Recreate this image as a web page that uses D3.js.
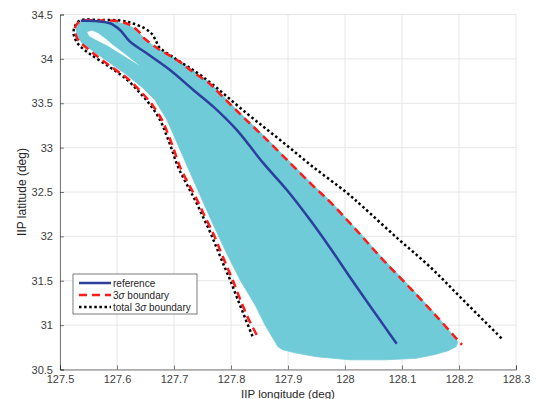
<!DOCTYPE html>
<html>
<head>
<meta charset="utf-8">
<script src="https://cdn.jsdelivr.net/npm/d3@7"></script>
<style>
  body { margin: 0; background: #fff; }
  text { font-family: "Liberation Sans", Arial, Helvetica, sans-serif; }
</style>
</head>
<body>
<div id="grafica"></div>
<script>
// ticks
var xTicks = [127.5, 127.6, 127.7, 127.8, 127.9, 128, 128.1, 128.2, 128.3];
var yTicks = [30.5, 31, 31.5, 32, 32.5, 33, 33.5, 34, 34.5];

// reference trajectory [lon, lat]
var reference = [
  [127.5363, 34.430], [127.5614, 34.427], [127.5877, 34.401], [127.6053, 34.325],
  [127.6228, 34.194], [127.6521, 34.063], [127.6930, 33.875], [127.7339, 33.650],
  [127.7689, 33.462], [127.8100, 33.200], [127.8567, 32.825], [127.8977, 32.525],
  [127.9386, 32.187], [127.9737, 31.872], [128.0118, 31.512], [128.0732, 30.949],
  [128.0907, 30.791]
];

// 3 sigma boundary
var sigma3 = [
  [127.8451, 30.891], [127.8298, 31.082], [127.8158, 31.296], [127.8035, 31.499],
  [127.7930, 31.657], [127.7807, 31.848], [127.7684, 32.039], [127.7544, 32.220],
  [127.7404, 32.411], [127.7246, 32.602], [127.7105, 32.783], [127.7000, 32.974],
  [127.6895, 33.154], [127.6789, 33.312], [127.6632, 33.470], [127.6439, 33.616],
  [127.6175, 33.785], [127.5877, 33.920], [127.5579, 34.066], [127.5386, 34.168],
  [127.5298, 34.235], [127.5263, 34.348], [127.5298, 34.393], [127.5368, 34.427],
  [127.5702, 34.432], [127.6053, 34.421], [127.6246, 34.376], [127.6404, 34.292],
  [127.6474, 34.235], [127.6667, 34.140], [127.6754, 34.100], [127.7053, 33.988],
  [127.7333, 33.852], [127.7632, 33.717], [127.7772, 33.627], [127.8158, 33.380],
  [127.8561, 33.130], [127.9035, 32.828], [127.9439, 32.569], [127.9737, 32.389],
  [128.0211, 32.062], [128.0667, 31.735], [128.1140, 31.420], [128.1614, 31.093],
  [128.2053, 30.778]
];

// total 3 sigma boundary
var total3 = [
  [127.8377, 30.874], [127.8246, 31.082], [127.8114, 31.296], [127.7991, 31.499],
  [127.7886, 31.657], [127.7763, 31.848], [127.7640, 32.039], [127.7509, 32.220],
  [127.7368, 32.411], [127.7211, 32.602], [127.7070, 32.783], [127.6965, 32.974],
  [127.6860, 33.154], [127.6754, 33.312], [127.6596, 33.470], [127.6404, 33.616],
  [127.6140, 33.785], [127.5842, 33.920], [127.5526, 34.055], [127.5368, 34.134],
  [127.5281, 34.202], [127.5237, 34.292], [127.5263, 34.370], [127.5351, 34.432],
  [127.5702, 34.438], [127.6053, 34.432], [127.6281, 34.399], [127.6491, 34.342],
  [127.6614, 34.280], [127.6684, 34.202], [127.6737, 34.134], [127.6982, 34.021],
  [127.7509, 33.796], [127.8275, 33.387], [127.8860, 33.087], [127.9439, 32.783],
  [128.0035, 32.490], [128.0316, 32.332], [128.0912, 31.983], [128.1491, 31.657],
  [128.2070, 31.285], [128.2754, 30.846]
];

// envelope of the dispersed trajectories
var dispersion = [
  [127.8825, 30.756], [127.8596, 31.003], [127.8421, 31.229], [127.8158, 31.510],
  [127.7895, 31.848], [127.7667, 32.163], [127.7456, 32.467], [127.7246, 32.771],
  [127.7070, 33.030], [127.6877, 33.312], [127.6667, 33.537], [127.6456, 33.672],
  [127.6175, 33.819], [127.5877, 33.954], [127.5579, 34.089], [127.5386, 34.179],
  [127.5298, 34.258], [127.5281, 34.337], [127.5333, 34.404], [127.5421, 34.427],
  [127.5702, 34.421], [127.6018, 34.410], [127.6193, 34.382], [127.6316, 34.337],
  [127.6404, 34.280], [127.6544, 34.190], [127.6719, 34.111], [127.7035, 33.999],
  [127.7333, 33.869], [127.7632, 33.729], [127.7772, 33.639], [127.8158, 33.391],
  [127.8561, 33.143], [127.9035, 32.839], [127.9439, 32.580], [127.9737, 32.400],
  [128.0211, 32.073], [128.0667, 31.747], [128.1140, 31.431], [128.1614, 31.105],
  [128.1982, 30.812], [128.1947, 30.756], [128.1807, 30.711], [128.1561, 30.666],
  [128.1246, 30.626], [128.0702, 30.609], [128.0088, 30.609], [127.9509, 30.643],
  [127.9123, 30.688], [127.8912, 30.722]
];

// empty sliver inside the dispersion near the start
var gap = [
  [127.5474, 34.303], [127.5561, 34.320], [127.5667, 34.292], [127.5807, 34.224],
  [127.5930, 34.157], [127.6140, 34.055], [127.6404, 33.920], [127.6123, 34.033],
  [127.5842, 34.145], [127.5632, 34.213], [127.5509, 34.258]
];

var margin = {top: 14.5, right: 23, bottom: 29.5, left: 60},
    width = 539 - margin.left - margin.right,
    height = 399 - margin.top - margin.bottom;

var svg = d3.select("#grafica")
  .append("svg")
    .attr("width", 539)
    .attr("height", 399)
  .append("g")
    .attr("transform", "translate(" + margin.left + "," + margin.top + ")");

var x = d3.scaleLinear().domain([127.5, 128.3]).range([0, width]);
var y = d3.scaleLinear().domain([30.5, 34.5]).range([height, 0]);

// gridlines
svg.append("g")
  .selectAll("line.gx")
  .data(xTicks)
  .enter().append("line")
    .attr("x1", function(d) { return x(d); })
    .attr("x2", function(d) { return x(d); })
    .attr("y1", 0).attr("y2", height)
    .attr("stroke", "#e6e6e6").attr("stroke-width", 1);

svg.append("g")
  .selectAll("line.gy")
  .data(yTicks)
  .enter().append("line")
    .attr("y1", function(d) { return y(d); })
    .attr("y2", function(d) { return y(d); })
    .attr("x1", 0).attr("x2", width)
    .attr("stroke", "#e6e6e6").attr("stroke-width", 1);

var line = d3.line()
  .x(function(d) { return x(d[0]); })
  .y(function(d) { return y(d[1]); });

// dispersed trajectories
svg.append("path")
  .datum(dispersion)
  .attr("fill", "#6fcbd7")
  .attr("stroke", "#6fcbd7")
  .attr("stroke-width", 0.8)
  .attr("d", line.curve(d3.curveLinearClosed));

svg.append("path")
  .datum(gap)
  .attr("fill", "#ffffff")
  .attr("opacity", 0.95)
  .attr("d", line.curve(d3.curveLinearClosed));

// boundaries and reference are smooth curves
line.curve(d3.curveCatmullRom.alpha(0.5));

svg.append("path")
  .datum(total3)
  .attr("fill", "none")
  .attr("stroke", "#000")
  .attr("stroke-width", 2.5)
  .attr("stroke-dasharray", "2.5,2.6")
  .attr("d", line);

svg.append("path")
  .datum(sigma3)
  .attr("fill", "none")
  .attr("stroke", "#ff1a1a")
  .attr("stroke-width", 2.5)
  .attr("stroke-dasharray", "8,5")
  .attr("d", line);

svg.append("path")
  .datum(reference)
  .attr("fill", "none")
  .attr("stroke", "#2b3f9c")
  .attr("stroke-width", 2.5)
  .attr("d", line);

// axes (ticks inside)
var xAxis = svg.append("g")
  .attr("transform", "translate(0," + height + ")")
  .call(d3.axisBottom(x).tickValues(xTicks).tickSize(-4).tickPadding(6)
    .tickFormat(function(d) { return String(+d.toFixed(1)); }));

var yAxis = svg.append("g")
  .call(d3.axisLeft(y).tickValues(yTicks).tickSize(-4).tickPadding(7)
    .tickFormat(function(d) { return String(+d.toFixed(1)); }));

[xAxis, yAxis].forEach(function(a) {
  a.select(".domain").attr("stroke", "#262626").attr("stroke-width", 0.6);
  a.selectAll(".tick line").attr("stroke", "#262626").attr("stroke-width", 0.6);
  a.selectAll(".tick text")
    .attr("fill", "#404040")
    .style("font-size", "11px")
    .style("font-family", "Liberation Sans, Arial, sans-serif");
});

svg.append("text")
  .attr("x", width / 2)
  .attr("y", height + 28.5)
  .attr("text-anchor", "middle")
  .style("font-size", "11.5px")
  .attr("fill", "#262626")
  .text("IIP longitude (deg)");

svg.append("text")
  .attr("transform", "translate(" + (-34) + "," + (height / 2) + ") rotate(-90)")
  .attr("text-anchor", "middle")
  .style("font-size", "12px")
  .attr("fill", "#262626")
  .text("IIP latitude (deg)");

// legend
var lx = 13, ly = 259.5;
var leg = svg.append("g").attr("transform", "translate(" + lx + "," + ly + ")");
leg.append("rect")
  .attr("x", 0).attr("y", 0)
  .attr("width", 124).attr("height", 40)
  .attr("fill", "#fff")
  .attr("stroke", "#262626")
  .attr("stroke-width", 0.6);

var legItems = [
  {label: "reference", color: "#2b3f9c", dash: null},
  {label: "3σ boundary", color: "#ff1a1a", dash: "8,5"},
  {label: "total 3σ boundary", color: "#000", dash: "2.5,2.6"}
];

legItems.forEach(function(it, i) {
  var yy = 9 + i * 12;
  leg.append("line")
    .attr("x1", 6).attr("x2", 38)
    .attr("y1", yy).attr("y2", yy)
    .attr("stroke", it.color)
    .attr("stroke-width", 2.5)
    .attr("stroke-dasharray", it.dash);
  var t = leg.append("text")
    .attr("x", 40).attr("y", yy + 3.5)
    .style("font-size", "10px")
    .attr("fill", "#262626");
  var parts = it.label.split("σ");
  t.append("tspan").text(parts[0]);
  if (parts.length > 1) {
    t.append("tspan").style("font-style", "italic").text("σ");
    t.append("tspan").text(parts[1]);
  }
});
</script>
</body>
</html>
